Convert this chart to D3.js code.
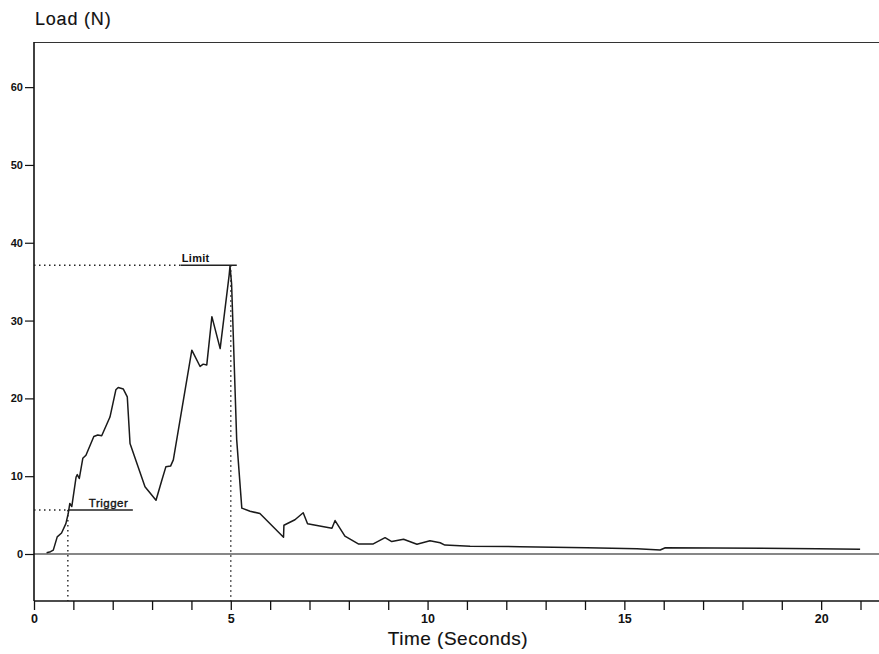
<!DOCTYPE html>
<html>
<head>
<meta charset="utf-8">
<script src="https://cdn.jsdelivr.net/npm/d3@7"></script>
<style>
  html, body { margin: 0; padding: 0; background: #fff; }
  svg { display: block; }
  text { font-family: "Liberation Sans", Arial, sans-serif; fill: #111; }
</style>
</head>
<body>
<svg id="chart" width="879" height="654"></svg>
<script>
// ---- Data ----
const timeSeconds = [0.32, 0.42, 0.49, 0.59, 0.70, 0.81, 0.87, 0.91, 0.96, 1.07, 1.10, 1.15, 1.24, 1.32, 1.52, 1.62, 1.72, 1.93, 2.08, 2.14, 2.27, 2.37, 2.44, 2.82, 3.10, 3.25, 3.35, 3.47, 3.54, 4.01, 4.22, 4.30, 4.39, 4.52, 4.73, 4.96, 4.98, 5.02, 5.15, 5.28, 5.49, 5.74, 6.34, 6.35, 6.63, 6.84, 6.95, 7.57, 7.65, 7.90, 8.24, 8.62, 8.92, 9.09, 9.39, 9.73, 10.06, 10.32, 10.44, 11.08, 12.35, 14.05, 15.32, 15.91, 16.04, 19.89, 20.99];
const loadN = [0.17, 0.3, 0.5, 2.2, 2.7, 3.9, 5.2, 6.5, 6.1, 9.9, 10.2, 9.7, 12.3, 12.7, 15.1, 15.3, 15.2, 17.6, 21.1, 21.4, 21.2, 20.2, 14.2, 8.65, 6.9, 9.5, 11.2, 11.3, 12.1, 26.2, 24.1, 24.4, 24.3, 30.5, 26.4, 35.9, 37.0, 34.8, 14.7, 5.9, 5.5, 5.2, 2.15, 3.7, 4.4, 5.3, 3.9, 3.3, 4.3, 2.3, 1.3, 1.3, 2.1, 1.6, 1.9, 1.25, 1.7, 1.45, 1.15, 1.0, 0.94, 0.81, 0.68, 0.51, 0.81, 0.68, 0.6];

const yTickValues = [0, 10, 20, 30, 40, 50, 60];
const xTickValues = [0, 5, 10, 15, 20];
const xMinorTickValues = [1, 2, 3, 4, 6, 7, 8, 9, 11, 12, 13, 14, 16, 17, 18, 19, 21];

const triggerTime = 0.86, triggerLoad = 5.65;
const limitTime = 5.0, limitLoad = 37.1;
const triggerLabel = "Trigger", limitLabel = "Limit";
const titleText = "Load (N)", xLabelText = "Time (Seconds)";

(function draw() {
  const svg = d3.select("#chart");
  const pl = 34, pr = 879, pt = 42, pb = 601;

  const x = d3.scaleLinear().domain([0, 21.47]).range([pl, pr]);
  const y = d3.scaleLinear().domain([-6.04, 65.8]).range([pb, pt]);

  // top border
  svg.append("line")
    .attr("x1", pl).attr("x2", pr).attr("y1", pt + 0.5).attr("y2", pt + 0.5)
    .attr("stroke", "#333").attr("stroke-width", 1.2);

  // y axis
  const yAxis = svg.append("g")
    .attr("transform", `translate(${pl},0)`)
    .call(d3.axisLeft(y).tickValues(yTickValues).tickSize(9).tickPadding(2).tickFormat(d3.format("d")));
  yAxis.select(".domain").attr("d", `M0,${pt}V${pb}`).attr("stroke", "#111").attr("stroke-width", 1.6);
  yAxis.selectAll(".tick line").attr("stroke", "#111").attr("stroke-width", 1.2);
  yAxis.selectAll(".tick text").attr("font-size", 11).attr("font-weight", "bold")
    .style("font-family", "'Liberation Sans', Arial, sans-serif").attr("fill", "#111");

  // x axis (major labelled + minor)
  const xAxis = svg.append("g")
    .attr("transform", `translate(0,${pb})`)
    .call(d3.axisBottom(x).tickValues(xTickValues).tickSize(9).tickPadding(4).tickFormat(d3.format("d")));
  xAxis.select(".domain").attr("d", `M${pl},0H${pr}`).attr("stroke", "#111").attr("stroke-width", 1.6);
  xAxis.selectAll(".tick line").attr("stroke", "#111").attr("stroke-width", 1.3);
  xAxis.selectAll(".tick text").attr("font-size", 12.5).attr("font-weight", "bold")
    .style("font-family", "'Liberation Sans', Arial, sans-serif").attr("fill", "#111");

  const xMinor = svg.append("g")
    .attr("transform", `translate(0,${pb})`)
    .call(d3.axisBottom(x).tickValues(xMinorTickValues).tickSize(9).tickFormat(""));
  xMinor.select(".domain").remove();
  xMinor.selectAll(".tick line").attr("stroke", "#111").attr("stroke-width", 1.3);

  // zero line
  svg.append("line")
    .attr("x1", pl).attr("x2", pr).attr("y1", y(0)).attr("y2", y(0))
    .attr("stroke", "#111").attr("stroke-width", 1.2);

  // trigger markers
  svg.append("line")
    .attr("x1", pl).attr("x2", x(triggerTime)).attr("y1", y(triggerLoad)).attr("y2", y(triggerLoad))
    .attr("stroke", "#222").attr("stroke-width", 1.4).attr("stroke-dasharray", "1.5,3.5");
  svg.append("line")
    .attr("x1", x(triggerTime)).attr("x2", x(triggerTime)).attr("y1", y(triggerLoad)).attr("y2", pb)
    .attr("stroke", "#222").attr("stroke-width", 1.4).attr("stroke-dasharray", "1.5,3.5");
  svg.append("line")
    .attr("x1", x(triggerTime)).attr("x2", x(triggerTime) + 65).attr("y1", y(triggerLoad)).attr("y2", y(triggerLoad))
    .attr("stroke", "#222").attr("stroke-width", 1.4);
  svg.append("text")
    .attr("x", x(triggerTime) + 21).attr("y", y(triggerLoad) - 3)
    .attr("font-size", 11.5).attr("letter-spacing", 0.5)
    .attr("stroke", "#111").attr("stroke-width", 0.35).text(triggerLabel);

  // limit markers
  svg.append("line")
    .attr("x1", pl).attr("x2", x(limitTime) - 50).attr("y1", y(limitLoad)).attr("y2", y(limitLoad))
    .attr("stroke", "#222").attr("stroke-width", 1.4).attr("stroke-dasharray", "1.5,3.5");
  svg.append("line")
    .attr("x1", x(limitTime) - 50).attr("x2", x(limitTime) + 6).attr("y1", y(limitLoad)).attr("y2", y(limitLoad))
    .attr("stroke", "#222").attr("stroke-width", 1.4);
  svg.append("line")
    .attr("x1", x(limitTime)).attr("x2", x(limitTime)).attr("y1", y(limitLoad)).attr("y2", pb)
    .attr("stroke", "#222").attr("stroke-width", 1.4).attr("stroke-dasharray", "1.5,3.5");
  svg.append("text")
    .attr("x", x(limitTime) - 49).attr("y", y(limitLoad) - 3)
    .attr("font-size", 11).attr("font-weight", "bold").attr("letter-spacing", 0.3).text(limitLabel);

  // load curve
  const pts = timeSeconds.map((t, i) => [t, loadN[i]]);
  svg.append("path")
    .datum(pts)
    .attr("fill", "none")
    .attr("stroke", "#1a1a1a")
    .attr("stroke-width", 1.5)
    .attr("stroke-linejoin", "round")
    .attr("d", d3.line().x(d => x(d[0])).y(d => y(d[1])));

  // titles
  svg.append("text").attr("x", 35).attr("y", 25).attr("font-size", 18)
    .attr("letter-spacing", 0.8).attr("stroke", "#111").attr("stroke-width", 0.15).text(titleText);
  svg.append("text").attr("x", 458).attr("y", 645).attr("text-anchor", "middle")
    .attr("font-size", 19).attr("letter-spacing", 0.5)
    .attr("stroke", "#111").attr("stroke-width", 0.15).text(xLabelText);
})();
</script>
</body>
</html>
